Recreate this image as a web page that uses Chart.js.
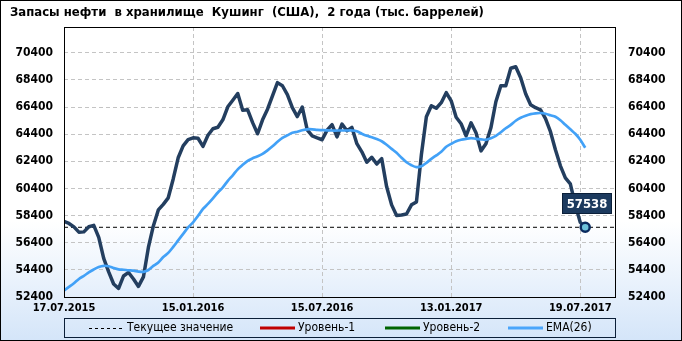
<!DOCTYPE html>
<html>
<head>
<meta charset="utf-8">
<script src="https://cdn.jsdelivr.net/npm/chart.js@4.4.0/dist/chart.umd.min.js"></script>
<style>
  html, body { margin: 0; padding: 0; background: #fff; }
  #wrap { width: 682px; height: 341px; }
</style>
</head>
<body>
<div id="wrap"><canvas id="chart" width="682" height="341"></canvas></div>
<script>
// ── Data ───────────────────────────────────────────────────────────
const TITLE = 'Запасы нефти  в хранилище  Кушинг  (США),  2 года (тыс. баррелей)';

// weekly stocks, thousand barrels
const stocks = [
  57970, 57820, 57570, 57180, 57200, 57580, 57680, 56800, 55240, 54250,
  53360, 53030, 53950, 54210, 53730, 53180, 53880, 56050, 57640, 58820,
  59230, 59710, 61100, 62660, 63540, 64000, 64130, 64100, 63500, 64320,
  64800, 64910, 65460, 66420, 66900, 67400, 66170, 66200, 65250, 64430,
  65460, 66240, 67230, 68200, 67970, 67310, 66350, 65700, 66400, 64720,
  64280, 64130, 63990, 64700, 65100, 64200, 65150, 64650, 64900, 63700,
  63100, 62340, 62700, 62200, 62600, 60520, 59190, 58410, 58450, 58520,
  59190, 59410, 62900, 65680, 66500, 66310, 66720, 67460, 66860, 65650,
  65170, 64280, 65240, 64500, 63170, 63690, 64870, 66790, 67970, 67970,
  69260, 69370, 68560, 67380, 66570, 66350, 66200, 65540, 64580, 63250,
  62070, 61180, 60740, 59190, 57900, 57538,
];

const ema26 = [
  52880, 53140, 53410, 53730, 53960, 54210, 54430, 54610, 54700, 54670,
  54540, 54440, 54410, 54370, 54340, 54270, 54250, 54390, 54690, 54950,
  55350, 55650, 56090, 56570, 57050, 57530, 57900, 58380, 58890, 59260,
  59670, 60100, 60480, 60960, 61370, 61810, 62140, 62440, 62620, 62770,
  62950, 63210, 63510, 63840, 64130, 64320, 64500, 64580, 64690, 64760,
  64760, 64720, 64700, 64680, 64670, 64670, 64670, 64670, 64670, 64610,
  64430, 64280, 64170, 64040, 63880, 63620, 63320, 63030, 62660, 62330,
  62110, 61970, 62030, 62290, 62580, 62840, 63100, 63470, 63690, 63880,
  63990, 64060, 64110, 64060, 64020, 63990, 64100, 64280, 64540, 64840,
  65090, 65390, 65610, 65760, 65880, 65940, 65960, 65910, 65790, 65680,
  65430, 65090, 64760, 64430, 63990, 63400,
];

const xTickIndex  = [0, 26, 52, 78, 104];
const xTickLabels = ['17.07.2015', '15.01.2016', '15.07.2016', '13.01.2017', '19.07.2017'];
const yTicks      = [52400, 54400, 56400, 58400, 60400, 62400, 64400, 66400, 68400, 70400];
const X_MAX = 111;
const Y_MIN = 52400;
const Y_MAX = 72300;

const legendItems = [
  { label: 'Текущее значение', color: '#000000', dash: [3, 3], width: 1 },
  { label: 'Уровень-1',        color: '#c00000', dash: [],     width: 3 },
  { label: 'Уровень-2',        color: '#006400', dash: [],     width: 3 },
  { label: 'EMA(26)',          color: '#4aa5fb', dash: [],     width: 3 },
];

const current = stocks[stocks.length - 1];

// ── Styles ─────────────────────────────────────────────────────────
const FAM  = "'DejaVu Sans Condensed', 'DejaVu Sans', sans-serif";
const GRID = '#c4c4c4';
const NAVY = '#233e5f';
const TICK = { color: '#000', font: { family: FAM, size: 12, weight: 'bold' } };

const pts = arr => arr.map((v, i) => ({ x: i, y: v }));

// ── Plugins ────────────────────────────────────────────────────────
const backdrop = {
  id: 'backdrop',
  beforeDraw(chart) {
    const { ctx, width, height } = chart;
    const g = ctx.createLinearGradient(0, 0, 0, height);
    g.addColorStop(0, '#ffffff');
    g.addColorStop(0.65, '#ffffff');
    g.addColorStop(1, '#d4e5f9');
    ctx.save();
    ctx.fillStyle = g;
    ctx.fillRect(0, 0, width, height);
    ctx.restore();
  },
};

const lastLabel = {
  id: 'lastLabel',
  afterDatasetsDraw(chart) {
    const { ctx } = chart;
    const meta = chart.getDatasetMeta(0);
    const p = meta.data[meta.data.length - 1];
    const w = 50, h = 21;
    const x = Math.round(p.x + 1.5 - w / 2), y = Math.round(p.y - 13 - h);
    ctx.save();
    ctx.fillStyle = '#1c3a5e';
    ctx.fillRect(x, y, w, h);
    ctx.strokeStyle = '#0b1f38';
    ctx.lineWidth = 1;
    ctx.strokeRect(x + 0.5, y + 0.5, w - 1, h - 1);
    ctx.fillStyle = '#ffffff';
    ctx.font = `bold 13px ${FAM}`;
    ctx.textAlign = 'center';
    ctx.textBaseline = 'middle';
    ctx.fillText(String(current), x + w / 2, y + h / 2 + 1);
    ctx.restore();
  },
};

const frame = {
  id: 'frame',
  afterDraw(chart) {
    const { ctx, chartArea: a, width, height } = chart;
    ctx.save();
    ctx.strokeStyle = '#000';
    ctx.lineWidth = 1;
    ctx.strokeRect(a.left + 0.5, a.top + 0.5, a.right - a.left, a.bottom - a.top);

    // title
    ctx.fillStyle = '#000';
    ctx.font = `bold 13px ${FAM}`;
    ctx.textAlign = 'left';
    ctx.textBaseline = 'middle';
    ctx.fillText(TITLE, 10, 13);

    // legend box
    const ly = 318, lh = 19;
    ctx.strokeStyle = '#0b1f38';
    ctx.strokeRect(a.left + 0.5, ly + 0.5, a.right - a.left, lh);
    const starts = [89, 260, 385, 508];
    ctx.font = `12px ${FAM}`;
    legendItems.forEach((it, i) => {
      const sx = starts[i], cy = ly + lh / 2 + 0.5;
      ctx.beginPath();
      ctx.setLineDash(it.dash);
      ctx.strokeStyle = it.color;
      ctx.lineWidth = it.width;
      ctx.moveTo(sx, Math.round(cy) + (it.width === 1 ? 0.5 : 0));
      ctx.lineTo(sx + 35, Math.round(cy) + (it.width === 1 ? 0.5 : 0));
      ctx.stroke();
      ctx.setLineDash([]);
      ctx.fillStyle = '#000';
      ctx.fillText(it.label, sx + 38, cy);
    });

    // outer border
    ctx.strokeStyle = '#000';
    ctx.lineWidth = 1;
    ctx.strokeRect(0.5, 0.5, width - 1, height - 1);
    ctx.restore();
  },
};

// ── Chart ──────────────────────────────────────────────────────────
new Chart(document.getElementById('chart').getContext('2d'), {
  type: 'line',
  data: {
    datasets: [
      {
        label: 'Запасы',
        data: pts(stocks),
        borderColor: NAVY,
        borderWidth: 3.5,
        borderJoinStyle: 'round',
        borderCapStyle: 'round',
        tension: 0,
        pointRadius: ctx => ctx.dataIndex === stocks.length - 1 ? 4.5 : 0,
        pointBackgroundColor: '#6cc1da',
        pointBorderColor: '#0a2a5e',
        pointBorderWidth: 2.5,
        order: 1,
      },
      {
        label: 'EMA(26)',
        data: pts(ema26),
        borderColor: '#42a1f7',
        borderWidth: 2.7,
        pointRadius: 0,
        tension: 0.3,
        order: 0,
      },
      {
        label: 'Текущее значение',
        data: [{ x: 0, y: current }, { x: X_MAX, y: current }],
        borderColor: '#000',
        borderWidth: 1,
        borderDash: [4, 3],
        pointRadius: 0,
        order: 3,
      },
    ],
  },
  options: {
    responsive: false,
    animation: false,
    devicePixelRatio: 1,
    layout: { padding: { top: 27, left: 0, right: 0, bottom: 0 } },
    plugins: { legend: { display: false }, tooltip: { enabled: false } },
    scales: {
      x: {
        type: 'linear',
        min: 0,
        max: X_MAX,
        afterBuildTicks: s => { s.ticks = xTickIndex.map(v => ({ value: v })); },
        afterFit: s => { s.height = 44; },
        ticks: {
          ...TICK,
          font: { family: FAM, size: 11, weight: 'bold' },
          padding: 5,
          maxRotation: 0,
          autoSkip: false,
          callback: v => xTickLabels[xTickIndex.indexOf(v)],
        },
        grid: { color: GRID, drawTicks: false },
        border: { display: false, dash: [4, 3] },
      },
      y: {
        position: 'left',
        min: Y_MIN,
        max: Y_MAX,
        afterBuildTicks: s => { s.ticks = yTicks.map(v => ({ value: v })); },
        afterFit: s => { s.width = 64; },
        ticks: { ...TICK, padding: 11, callback: v => String(v) },
        grid: { color: GRID, drawTicks: false },
        border: { display: false, dash: [4, 3] },
      },
      y2: {
        position: 'right',
        min: Y_MIN,
        max: Y_MAX,
        afterBuildTicks: s => { s.ticks = yTicks.map(v => ({ value: v })); },
        afterFit: s => { s.width = 67; },
        ticks: { ...TICK, padding: 13, callback: v => String(v) },
        grid: { drawOnChartArea: false, drawTicks: false },
        border: { display: false },
      },
    },
  },
  plugins: [backdrop, lastLabel, frame],
});
</script>
</body>
</html>
